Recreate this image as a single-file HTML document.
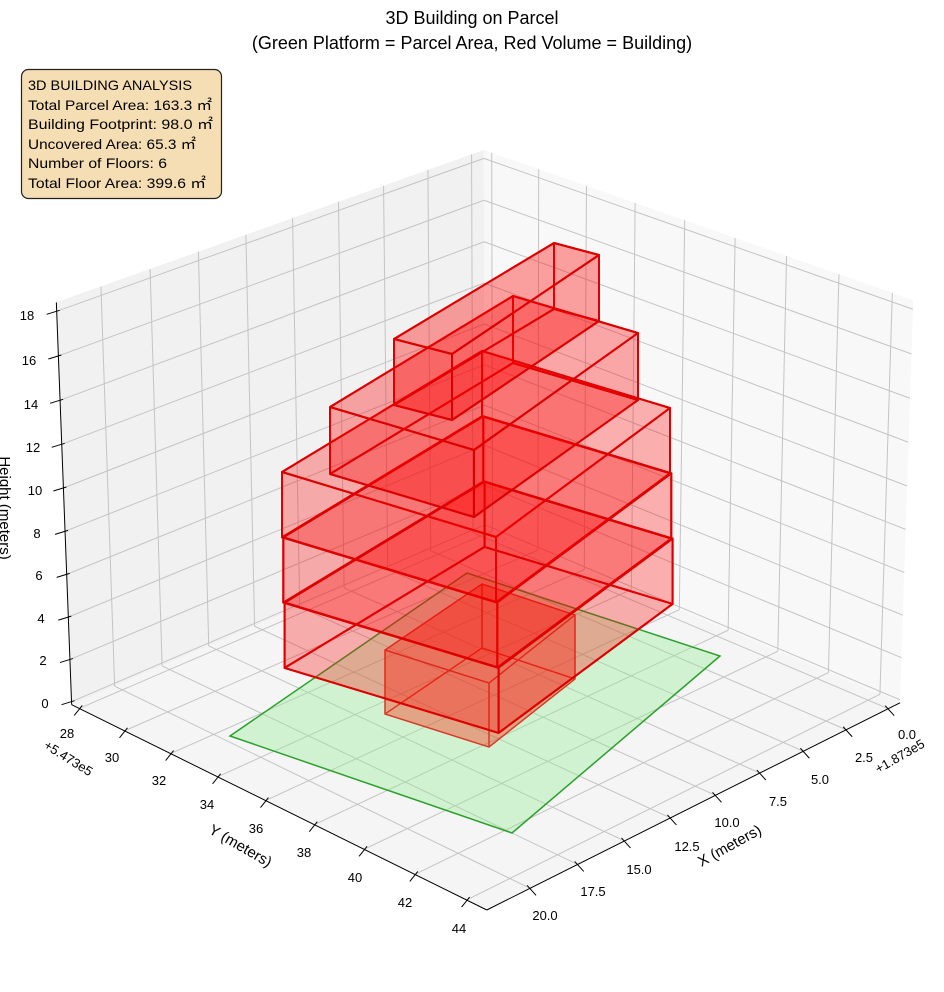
<!DOCTYPE html>
<html><head><meta charset="utf-8">
<style>
html,body{margin:0;padding:0;background:#fff;}
svg{display:block;}
text{font-family:"Liberation Sans","Noto Sans CJK SC",sans-serif;fill:#000;}
</style></head>
<body>
<svg id="s" width="944" height="992" viewBox="0 0 944 992" xmlns="http://www.w3.org/2000/svg">
<g id="panes"></g>
<g id="grid" stroke="#c4c4c4" stroke-width="1" fill="none"></g>
<g id="axes" stroke="#000" stroke-width="1" fill="none"></g>
<polygon points="230,736 467,573 720,656 512,833" fill="#90ee90" fill-opacity="0.35" stroke="#2ca02c" stroke-width="1.5"/>
<g id="bld"></g>
<text x="472" y="24" font-size="18" text-anchor="middle">3D Building on Parcel</text>
<text x="472" y="49" font-size="18" text-anchor="middle">(Green Platform = Parcel Area, Red Volume = Building)</text>
<rect x="21.5" y="69.5" width="200" height="129" rx="7" fill="#f5deb3" stroke="#222" stroke-width="1.2"/>
<g font-size="14">
<text x="28" y="90" textLength="164" lengthAdjust="spacingAndGlyphs">3D BUILDING ANALYSIS</text>
<text x="28" y="110" textLength="184" lengthAdjust="spacingAndGlyphs">Total Parcel Area: 163.3 ㎡</text>
<text x="28" y="129" textLength="185" lengthAdjust="spacingAndGlyphs">Building Footprint: 98.0 ㎡</text>
<text x="28" y="149" textLength="168" lengthAdjust="spacingAndGlyphs">Uncovered Area: 65.3 ㎡</text>
<text x="28" y="168" textLength="139" lengthAdjust="spacingAndGlyphs">Number of Floors: 6</text>
<text x="28" y="188" textLength="178" lengthAdjust="spacingAndGlyphs">Total Floor Area: 399.6 ㎡</text>
</g>
<g font-size="13" text-anchor="middle">
<text x="45" y="708">0</text><text x="43" y="665">2</text><text x="41" y="623">4</text><text x="39" y="580">6</text><text x="37" y="538">8</text>
<text x="35" y="495">10</text><text x="33" y="452">12</text><text x="31" y="409">14</text><text x="29" y="365">16</text><text x="27" y="320">18</text>
<text x="67" y="738">28</text><text x="112" y="762">30</text><text x="159" y="785">32</text><text x="207" y="809">34</text><text x="256" y="833">36</text>
<text x="304" y="857">38</text><text x="355" y="882">40</text><text x="405" y="907">42</text><text x="459" y="933">44</text>
<text x="907" y="739">0.0</text><text x="864" y="762">2.5</text><text x="820" y="784">5.0</text><text x="778" y="806">7.5</text><text x="727" y="827">10.0</text>
<text x="687" y="851">12.5</text><text x="639" y="874">15.0</text><text x="593" y="896">17.5</text><text x="545" y="920">20.0</text>
<text x="0" y="0" transform="translate(66,762) rotate(32)">+5.473e5</text>
<text x="0" y="0" transform="translate(902,760) rotate(-30)">+1.873e5</text>
</g>
<g font-size="15" text-anchor="middle">
<text x="0" y="0" transform="translate(238,850) rotate(30)">Y (meters)</text>
<text x="0" y="0" transform="translate(732,850) rotate(-29)">X (meters)</text>
<text x="0" y="0" transform="translate(0,508) rotate(90)">Height (meters)</text>
</g>
</svg>
<script>
(function(){
var NS="http://www.w3.org/2000/svg";
var Xn=-0.71,Xx=22.23,Yn=27.66,Yx=44.77,Zn=-0.14,Zx=18.4;
var pts=[[Xx,Yn,Zn,72,706],[Xx,Yx,Zn,487,910],[Xn,Yx,Zn,900,703],[Xx,Yn,Zx,56,298],[Xn,Yx,Zx,913,300],[Xn,Yn,Zx,484,150],[Xx,Yn,18,57,316],[Xx,Yn,0,71,700]];
var A=[],b=[];
pts.forEach(function(p){var X=p[0]-11,Y=p[1]-36,Z=p[2]-9,u=p[3],v=p[4];
A.push([X,Y,Z,1,0,0,0,0,-u*X,-u*Y,-u*Z]);b.push(u);
A.push([0,0,0,0,X,Y,Z,1,-v*X,-v*Y,-v*Z]);b.push(v);});
var n=11,M=[],i,j,k;
for(i=0;i<n;i++){M.push([]);for(j=0;j<=n;j++){var s=0;for(k=0;k<A.length;k++)s+=A[k][i]*(j<n?A[k][j]:b[k]);M[i].push(s);}}
for(i=0;i<n;i++){var mx=i;for(j=i+1;j<n;j++)if(Math.abs(M[j][i])>Math.abs(M[mx][i]))mx=j;var t=M[i];M[i]=M[mx];M[mx]=t;
for(j=0;j<n;j++)if(j!==i){var f=M[j][i]/M[i][i];for(k=i;k<=n;k++)M[j][k]-=f*M[i][k];}}
var P=[];for(i=0;i<n;i++)P.push(M[i][n]/M[i][i]);
function pr(X,Y,Z){X-=11;Y-=36;Z-=9;var w=P[8]*X+P[9]*Y+P[10]*Z+1;
return [(P[0]*X+P[1]*Y+P[2]*Z+P[3])/w,(P[4]*X+P[5]*Y+P[6]*Z+P[7])/w];}
function el(g,tag,at){var e=document.createElementNS(NS,tag);for(var a in at)e.setAttribute(a,at[a]);document.getElementById(g).appendChild(e);return e;}
function poly(g,arr,at){at.points=arr.map(function(p){return p[0].toFixed(1)+","+p[1].toFixed(1);}).join(" ");return el(g,"polygon",at);}
function ln(g,a,c,at){at=at||{};at.x1=a[0];at.y1=a[1];at.x2=c[0];at.y2=c[1];return el(g,"line",at);}
poly("panes",[pr(Xx,Yn,Zn),pr(Xx,Yx,Zn),pr(Xn,Yx,Zn),pr(Xn,Yn,Zn)],{fill:"#f5f5f5"});
poly("panes",[pr(Xx,Yn,Zn),pr(Xn,Yn,Zn),pr(Xn,Yn,Zx),pr(Xx,Yn,Zx)],{fill:"#f1f1f1"});
poly("panes",[pr(Xn,Yn,Zn),pr(Xn,Yx,Zn),pr(Xn,Yx,Zx),pr(Xn,Yn,Zx)],{fill:"#f8f8f8"});
var xt=[0,2.5,5,7.5,10,12.5,15,17.5,20],yt=[28,30,32,34,36,38,40,42,44],zt=[0,2,4,6,8,10,12,14,16,18];
xt.forEach(function(x){ln("grid",pr(x,Yn,Zn),pr(x,Yx,Zn));ln("grid",pr(x,Yn,Zn),pr(x,Yn,Zx));});
yt.forEach(function(y){ln("grid",pr(Xn,y,Zn),pr(Xx,y,Zn));ln("grid",pr(Xn,y,Zn),pr(Xn,y,Zx));});
zt.forEach(function(z){ln("grid",pr(Xn,Yn,z),pr(Xx,Yn,z));ln("grid",pr(Xn,Yn,z),pr(Xn,Yx,z));});
ln("axes",pr(Xx,Yn,Zn),pr(Xx,Yn,Zx));ln("axes",pr(Xx,Yn,Zn),pr(Xx,Yx,Zn));ln("axes",pr(Xn,Yx,Zn),pr(Xx,Yx,Zn));
zt.forEach(function(z){var p=pr(Xx,Yn,z);ln("axes",[p[0]-10,p[1]+3],[p[0]+3,p[1]-1]);});
yt.forEach(function(y){var p=pr(Xx,y,Zn);ln("axes",[p[0]-5,p[1]+7],[p[0]+3,p[1]-3]);});
xt.forEach(function(x){var p=pr(x,Yx,Zn);ln("axes",[p[0]+6,p[1]+7],[p[0]-3,p[1]-3]);});
function box(T,h,fill,stroke,sw,op){
var Bm=T.map(function(p){return [p[0],p[1]+h];});
var faces=[Bm,[T[0],T[3],Bm[3],Bm[0]],[T[3],T[2],Bm[2],Bm[3]],[T[0],T[1],Bm[1],Bm[0]],[T[1],T[2],Bm[2],Bm[1]],T];
faces.forEach(function(f){poly("bld",f,{fill:fill,"fill-opacity":op,stroke:stroke,"stroke-width":sw,"stroke-linejoin":"round"});});}
box([[385,650],[489,683],[575,615],[482,584]],64,"#ff2000","#d83a28","1.3","0.2");
var Bt=[[282,472],[496,537],[670,408],[482,351]];
for(var q=0;q<3;q++){box(Bt.map(function(p){return [p[0]+q*1.3,p[1]+q*65.3];}),65.3,"#ff0000","#dd0000","2","0.16");}
box([[330,407],[474,450],[638,333],[513,296]],67,"#ff0000","#dd0000","2","0.18");
box([[394,339],[452,354],[599,255],[554,243]],66,"#ff0000","#dd0000","2","0.2");
})();
</script>
</body></html>
